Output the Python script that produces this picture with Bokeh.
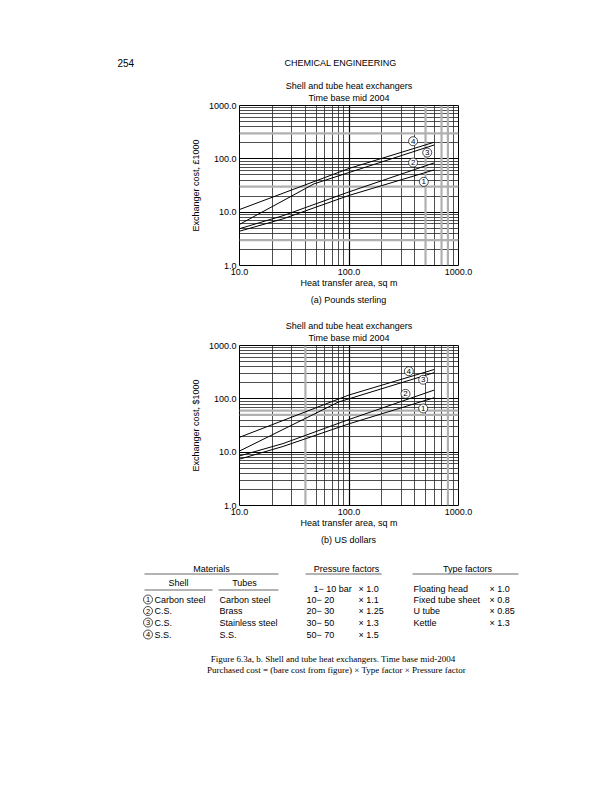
from bokeh.plotting import figure
from bokeh.models import Range1d, FixedTicker, PrintfTickFormatter, Span, Title
from bokeh.layouts import column
from bokeh.embed import file_html
from bokeh.resources import INLINE
from bokeh.core.properties import value

FONT = "Liberation Sans"
SERIF = "Liberation Serif"

# ---------------- data ----------------
area_major = [10, 100, 1000]
area_minor = [20, 30, 40, 50, 60, 70, 80, 90, 200, 300, 400, 500, 600, 700, 800, 900]
cost_major = [1, 10, 100, 1000]
cost_minor = [2, 3, 4, 5, 6, 7, 8, 9, 20, 30, 40, 50, 60, 70, 80, 90,
              200, 300, 400, 500, 600, 700, 800, 900]

# (a) Pounds sterling, cost in £1000 vs heat transfer area (sq m)
gbp_area_1 = [10, 25, 100, 600]
gbp_cost_1 = [4.4, 7.5, 20.6, 62]
gbp_area_2 = [10, 25, 100, 600]
gbp_cost_2 = [4.9, 8.6, 24.0, 84]
gbp_area_3 = [10, 48, 600]
gbp_cost_3 = [5.9, 34, 182]
gbp_area_4 = [10, 100, 600]
gbp_cost_4 = [11.2, 66, 205]

# (b) US dollars, cost in $1000
usd_area_1 = [10, 25, 100, 600]
usd_cost_1 = [7.4, 12.8, 34, 105]
usd_area_2 = [10, 25, 100, 600]
usd_cost_2 = [8.5, 14.5, 41, 146]
usd_area_3 = [10, 80, 600]
usd_cost_3 = [10.5, 87, 310]
usd_area_4 = [10, 100, 600]
usd_cost_4 = [19, 118, 355]

curve_ids = ["1", "2", "3", "4"]
gbp_tag_area = [482, 385, 518, 385]
gbp_tag_cost = [37, 85, 131, 214]
usd_tag_area = [476, 328, 476, 352]
usd_tag_cost = [66, 124, 228, 330]

# grey (heavier) grid rulings seen in the scan
gbp_grey_v = [500, 700, 800]
gbp_grey_h = [3, 30, 300]
usd_grey_v = [40, 800]
usd_grey_h = [50, 60]

shell = ["Carbon steel", "C.S.", "C.S.", "S.S."]
tubes = ["Carbon steel", "Brass", "Stainless steel", "S.S."]
pressure_range = ["1\u2212 10 bar", "10\u2212 20", "20\u2212 30", "30\u2212 50", "50\u2212 70"]
pressure_factor = ["\u00d7 1.0", "\u00d7 1.1", "\u00d7 1.25", "\u00d7 1.3", "\u00d7 1.5"]
type_name = ["Floating head", "Fixed tube sheet", "U tube", "Kettle"]
type_factor = ["\u00d7 1.0", "\u00d7 0.8", "\u00d7 0.85", "\u00d7 1.3"]

W = 612
FL = 239          # frame left (px)
FW = 219
FH = 160
TOPB = 30         # space above each frame for the two title lines


def text_fig(top, bottom):
    f = figure(width=W, height=bottom - top, x_range=Range1d(0, W), y_range=Range1d(bottom, top),
               output_backend="svg", toolbar_location=None, title=None, min_border=0,
               x_axis_type=None, y_axis_type=None, frame_align=False)
    f.grid.visible = False
    f.outline_line_color = None
    f.background_fill_color = "white"
    f.border_fill_color = "white"
    return f


def txt(f, xs, ys, texts, align="left", font=FONT, size="9px"):
    f.text(xs, ys, text=texts, text_font=value(font), text_font_size=size,
           text_align=align, text_baseline="middle", text_color="black")


def chart(frame_top, bottom, ylabel, areas, costs, tags_x, tags_y, grey_v, grey_h):
    top = frame_top - TOPB
    fb = frame_top + FH
    p = figure(width=W, height=bottom - top, x_axis_type="log", y_axis_type="log",
               x_range=Range1d(10, 1000), y_range=Range1d(1, 1000),
               output_backend="svg", toolbar_location=None, title=None, frame_align=False,
               min_border_left=FL, min_border_right=W - FL - FW,
               min_border_top=TOPB, min_border_bottom=bottom - fb)
    p.add_layout(Title(text="Time base mid 2004", align="center", text_font=FONT,
                       text_font_size="9px", text_font_style="normal", text_color="black",
                       vertical_align="middle", standoff=3), "above")
    p.add_layout(Title(text="Shell and tube heat exchangers", align="center", text_font=FONT,
                       text_font_size="9px", text_font_style="normal", text_color="black",
                       vertical_align="bottom", standoff=0), "above")
    xt = FixedTicker(ticks=area_major, minor_ticks=area_minor)
    yt = FixedTicker(ticks=cost_major, minor_ticks=cost_minor)
    p.xaxis.ticker = xt
    p.yaxis.ticker = yt
    p.xgrid.ticker = xt
    p.ygrid.ticker = yt
    for ax in (p.xaxis, p.yaxis):
        ax.formatter = PrintfTickFormatter(format="%.1f")
        ax.axis_line_color = None
        ax.major_tick_line_color = None
        ax.minor_tick_line_color = None
        ax.major_tick_out = 0
        ax.minor_tick_out = 0
        ax.major_label_standoff = 3
        ax.major_label_text_font = FONT
        ax.major_label_text_font_size = "9px"
        ax.major_label_text_color = "black"
        ax.axis_label_text_font = FONT
        ax.axis_label_text_font_size = "9px"
        ax.axis_label_text_font_style = "normal"
        ax.axis_label_text_color = "black"
    p.xaxis.axis_label = "Heat transfer area, sq m"
    p.xaxis.axis_label_standoff = 0
    p.yaxis.axis_label = ylabel
    p.yaxis.axis_label_standoff = 5
    for g in (p.xgrid, p.ygrid):
        g.grid_line_color = "black"
        g.grid_line_width = 1.2
        g.minor_grid_line_color = "#222222"
        g.minor_grid_line_width = 0.8
    p.outline_line_color = "black"
    p.outline_line_width = 1
    p.background_fill_color = "white"
    p.border_fill_color = "white"
    for v in grey_v:
        p.add_layout(Span(location=v, dimension="height", line_color="#b0b0b0",
                          line_width=2.2, level="underlay"))
    for v in grey_h:
        p.add_layout(Span(location=v, dimension="width", line_color="#b0b0b0",
                          line_width=2.2, level="underlay"))
    for a, c in zip(areas, costs):
        p.line(a, c, line_color="black", line_width=1)
    p.scatter(tags_x, tags_y, size=9, marker="circle", fill_color="white",
              line_color="black", line_width=0.7)
    p.text(tags_x, tags_y, text=curve_ids, text_font=value(FONT), text_font_size="8px",
           text_align="center", text_baseline="middle", text_color="black")
    return p


# header
ph = text_fig(0, 75)
txt(ph, [117], [62], ["254"], size="10px")
txt(ph, [340], [62], ["CHEMICAL ENGINEERING"], align="center")

pa = chart(105, 295, "Exchanger cost, \u00a31000",
           [gbp_area_1, gbp_area_2, gbp_area_3, gbp_area_4],
           [gbp_cost_1, gbp_cost_2, gbp_cost_3, gbp_cost_4],
           gbp_tag_area, gbp_tag_cost, gbp_grey_v, gbp_grey_h)

pm = text_fig(295, 315)
txt(pm, [348], [299.3], ["(a) Pounds sterling"], align="center")

pb = chart(345, 535, "Exchanger cost, $1000",
           [usd_area_1, usd_area_2, usd_area_3, usd_area_4],
           [usd_cost_1, usd_cost_2, usd_cost_3, usd_cost_4],
           usd_tag_area, usd_tag_cost, usd_grey_v, usd_grey_h)

# ---------------- table / caption ----------------
pt = text_fig(535, 760)
txt(pt, [348], [539.3], ["(b) US dollars"], align="center")
txt(pt, [211, 346, 467], [568, 568, 568], ["Materials", "Pressure factors", "Type factors"], align="center")
pt.segment([144, 305, 412], [573.5] * 3, [278, 381, 518], [573.5] * 3,
           line_color="#9a9a9a", line_width=1.5)
txt(pt, [178, 244], [582, 582], ["Shell", "Tubes"], align="center")
pt.segment([144, 218], [589.5] * 2, [212, 278], [589.5] * 2,
           line_color="#9a9a9a", line_width=1.5)

row_y = [599, 610.5, 622, 634]
pt.scatter([147.5] * 4, row_y, size=9, marker="circle", fill_color="white",
           line_color="black", line_width=0.7)
txt(pt, [147.5] * 4, row_y, curve_ids, align="center", size="7.5px")
txt(pt, [154] * 4, row_y, shell)
txt(pt, [219] * 4, row_y, tubes)
pr_y = [588] + row_y
txt(pt, [313] + [306] * 4, pr_y, pressure_range)
txt(pt, [358] * 5, pr_y, pressure_factor)
ty_y = pr_y[:4]
txt(pt, [413] * 4, ty_y, type_name)
txt(pt, [489] * 4, ty_y, type_factor)

txt(pt, [336], [658], ["Figure 6.3a, b.    Shell and tube heat exchangers. Time base mid-2004"],
    align="center", font=SERIF, size="9px")
txt(pt, [336], [669.5], ["Purchased cost = (bare cost from figure) \u00d7 Type factor \u00d7 Pressure factor"],
    align="center", font=SERIF, size="9px")

layout = column(ph, pa, pm, pb, pt, spacing=0)
open("out.html", "w").write(file_html(layout, INLINE))
